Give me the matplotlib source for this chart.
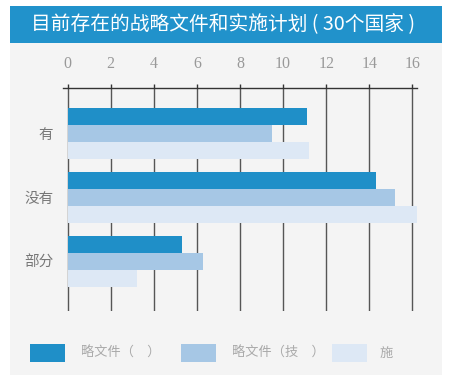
import matplotlib
matplotlib.use("Agg")
import matplotlib.pyplot as plt
from matplotlib.patches import Rectangle
import numpy as np

plt.rcParams['font.family'] = ['Noto Sans CJK SC', 'DejaVu Sans']

title = "目前存在的战略文件和实施计划 ( 30个国家 )"
categories = ["有", "没有", "部分"]
series_labels = ["略文件（　）", "略文件（技　）", "施"]
series_values = [
    [11.1, 14.3, 5.3],
    [9.5, 15.2, 6.3],
    [11.2, 16.2, 3.2],
]
colors = ["#1f8fc8", "#a6c7e5", "#dde8f5"]
xticks = [0, 2, 4, 6, 8, 10, 12, 14, 16]

W, H = 450, 385
fig = plt.figure(figsize=(W / 100, H / 100), dpi=100)
fig.patch.set_facecolor("white")

def fx(px):
    return px / W

def fy(py):
    return 1 - py / H

# background panel
fig.add_artist(Rectangle((fx(10), fy(375)), fx(432), (375 - 43) / H,
                         transform=fig.transFigure, facecolor="#f4f4f4",
                         edgecolor="none", zorder=0))
# title bar
fig.add_artist(Rectangle((fx(10), fy(43)), fx(432), (43 - 6) / H,
                         transform=fig.transFigure, facecolor="#2192cb",
                         edgecolor="none", zorder=1))
fig.text(fx(223), fy(24.5), title, color="white", fontsize=14.2,
         ha="center", va="center", zorder=2)

# axes
left, right = 63.3, 416.7
top, bottom = 87.5, 311
ax = fig.add_axes([fx(left), fy(bottom), (right - left) / W, (bottom - top) / H])
ax.set_facecolor("none")
ax.set_xlim(-0.2, 16.2)
ax.set_ylim(2.78, -0.72)

bar_h = 17 / 64
y = np.arange(len(categories))
for i, (vals, c) in enumerate(zip(series_values, colors)):
    ax.barh(y + (i - 1) * bar_h, vals, height=bar_h, color=c, zorder=2,
            label=series_labels[i])

for xt in xticks:
    ax.axvline(xt, color="#555555", linewidth=1.0, zorder=1)

for s in ["left", "right", "bottom"]:
    ax.spines[s].set_visible(False)
ax.spines["top"].set_color("#333333")
ax.spines["top"].set_linewidth(1.0)
ax.xaxis.tick_top()
ax.set_xticks(xticks)
ax.set_xticklabels([str(t) for t in xticks], family="Liberation Serif",
                   color="#999999", fontsize=11.5)
ax.tick_params(axis="x", direction="out", length=3, width=1, color="#333333", pad=8)
ax.set_yticks(y)
ax.set_yticklabels(categories, color="#777777", fontsize=10.5)
ax.tick_params(axis="y", length=0, pad=7)

# legend
box_x = [30, 181, 332]
text_x = [81, 232, 380]
for bx, tx, c, lab in zip(box_x, text_x, colors, series_labels):
    fig.add_artist(Rectangle((fx(bx), fy(362)), fx(35), 18 / H,
                             transform=fig.transFigure, facecolor=c,
                             edgecolor="none", zorder=2))
    fig.text(fx(tx), fy(353), lab, color="#aaaaaa", fontsize=9.5,
             ha="left", va="center", zorder=2)

fig.savefig("out.png", dpi=100, facecolor="white")
